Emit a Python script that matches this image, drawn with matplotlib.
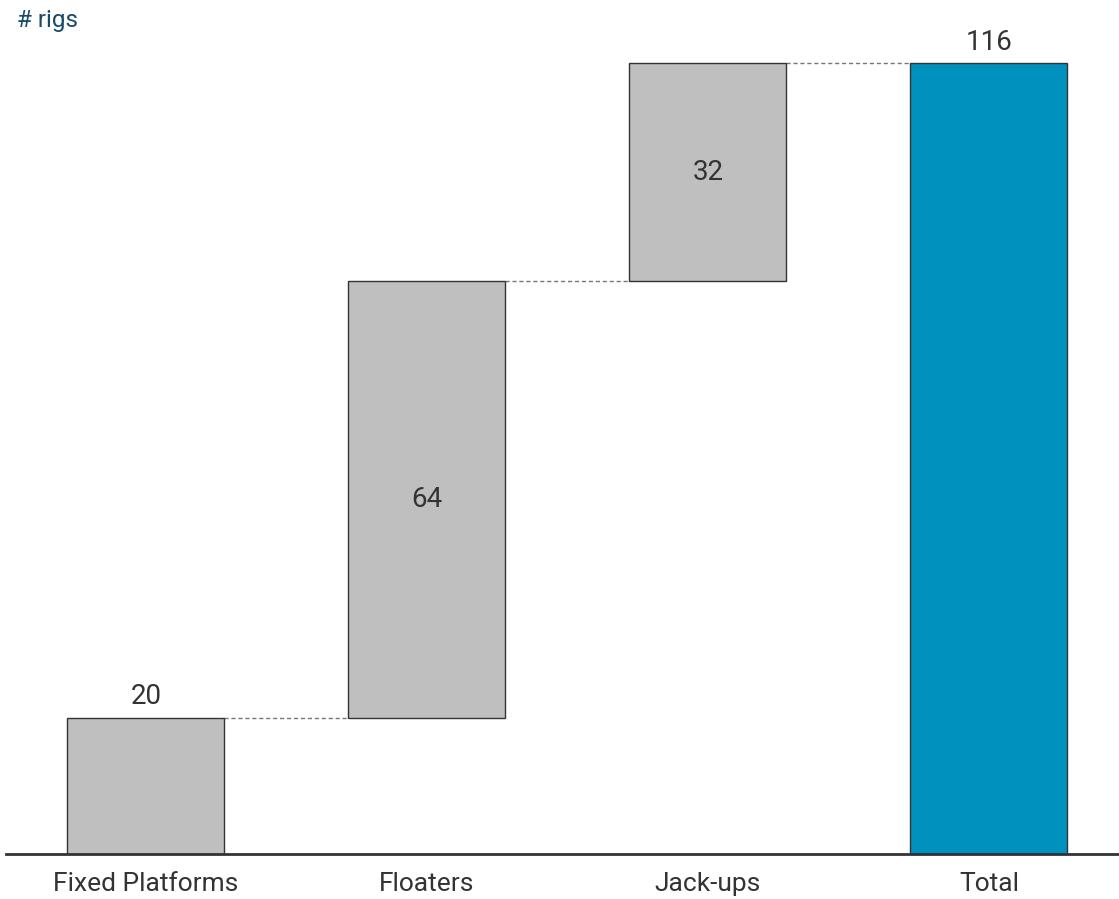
import matplotlib.pyplot as plt

categories = ["Fixed Platforms", "Floaters", "Jack-ups", "Total"]
values = [20, 64, 32, 116]
is_total = [False, False, False, True]

plt.rcParams['font.family'] = ['Roboto', 'DejaVu Sans']

fig = plt.figure(figsize=(11.19, 8.99), dpi=100)
ax = fig.add_axes([6 / 1119, 45 / 899, 1113 / 1119, 818 / 899])

bottoms = []
running = 0
for v, t in zip(values, is_total):
	if t:
		bottoms.append(0)
	else:
		bottoms.append(running)
		running += v

colors = ["#0091bf" if t else "#bfbfbf" for t in is_total]
xs = list(range(len(categories)))
width = 0.559
ax.bar(xs, values, bottom=bottoms, width=width, color=colors,
	   edgecolor="#333333", linewidth=1, zorder=2)

# connectors
for i in range(len(xs) - 1):
	level = bottoms[i] + values[i]
	ax.plot([xs[i] + width / 2, xs[i + 1] - width / 2], [level, level],
			linestyle=(0, (3, 2)), color="#777777", linewidth=1, zorder=1)

for i, (v, b, t) in enumerate(zip(values, bottoms, is_total)):
	if i == 0 or t:
		ax.text(xs[i], b + v + 1.1, str(v), ha="center", va="bottom",
				fontsize=20, color="#333333")
	else:
		ax.text(xs[i], b + v / 2, str(v), ha="center", va="center",
				fontsize=20, color="#333333")

ax.set_xlim(-0.498, 3.463)
ax.set_ylim(0, 120)
ax.set_xticks(xs)
ax.set_xticklabels(categories, fontsize=19, color="#333333")
ax.tick_params(axis="x", length=0, pad=13)
ax.set_yticks([])
for s in ["top", "right", "left"]:
	ax.spines[s].set_visible(False)
ax.spines["bottom"].set_color("#333333")
ax.spines["bottom"].set_linewidth(2)

fig.text(17 / 1119, 1 - 20 / 899, "# rigs", fontsize=17.5, color="#1a4a6b",
		 ha="left", va="center")

fig.savefig("out.png", dpi=100)
